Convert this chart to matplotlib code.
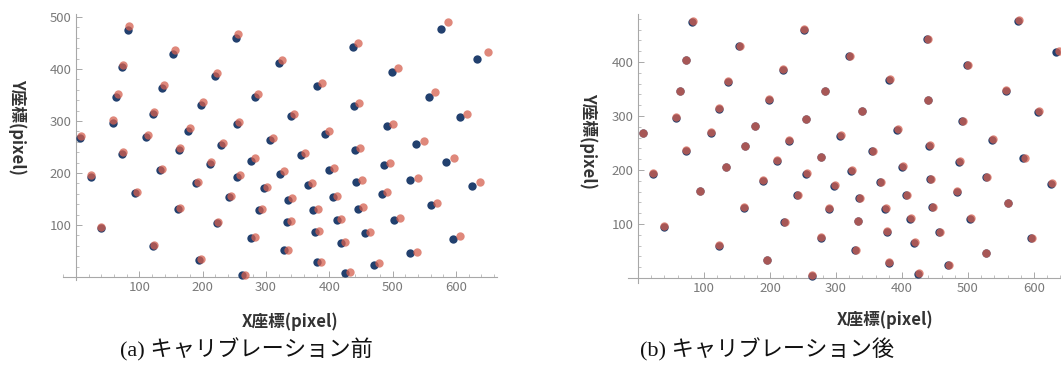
"""
キャリブレーション前後の点位置比較 (2パネル散布図)
"""

import matplotlib
matplotlib.use("Agg")
import matplotlib.pyplot as plt
from matplotlib.ticker import FixedLocator, MultipleLocator

plt.rcParams["font.family"] = ["Noto Sans CJK JP", "DejaVu Sans"]

# 目標位置 (青)
target_x = [82, 252, 153, 72, 320, 220, 136, 64, 283, 198, 122, 58, 254, 339, 177, 7, 111, 306, 229, 162,
            73, 133, 211, 277, 23, 189, 255, 323, 94, 241, 297, 161, 289, 335, 39, 222, 277, 333, 122, 329, 195, 263,
            355, 441, 537, 400, 487, 584, 367, 443, 528, 626, 406, 483, 375, 446, 560, 412, 503, 377, 456, 596,
            418, 527, 380, 470, 425,
            576, 438, 634, 499, 381, 557, 439, 606, 491, 393]
target_y = [475, 460, 429, 403, 411, 386, 363, 346, 346, 330, 313, 297, 294, 309, 281, 268, 269, 263, 254, 244,
            236, 205, 217, 224, 193, 180, 193, 199, 161, 153, 171, 130, 128, 148, 95, 103, 75, 105, 60, 51, 33, 4,
            235, 245, 256, 206, 215, 222, 177, 183, 187, 175, 153, 160, 128, 131, 138, 110, 110, 86, 85, 74,
            65, 46, 28, 24, 8,
            476, 442, 419, 394, 367, 347, 329, 308, 290, 275]

# キャリブレーション前 (赤)
before_x = [84, 256, 156, 74, 325, 223, 139, 66, 288, 201, 124, 59, 258, 345, 180, 8, 113, 311, 233, 165,
            75, 136, 214, 282, 23, 192, 259, 329, 96, 245, 302, 164, 294, 341, 40, 225, 282, 339, 124, 335, 198, 267,
            361, 449, 549, 407, 496, 597, 373, 451, 540, 638, 413, 492, 382, 454, 571, 419, 512, 384, 464, 606,
            425, 538, 387, 479, 433,
            587, 446, 651, 508, 388, 567, 447, 618, 500, 400]
before_y = [482, 467, 436, 408, 418, 393, 369, 351, 352, 336, 318, 301, 299, 314, 286, 272, 273, 267, 258, 248,
            240, 208, 221, 228, 196, 183, 197, 203, 164, 156, 174, 133, 131, 151, 97, 105, 77, 107, 61, 52, 34, 4,
            239, 249, 261, 210, 219, 228, 181, 187, 190, 182, 156, 163, 131, 134, 142, 112, 113, 88, 87, 78,
            67, 48, 29, 26, 9,
            491, 450, 433, 401, 373, 355, 335, 313, 295, 280]

# キャリブレーション後 (赤)
after_x = [83, 252, 154, 72, 321, 220, 137, 64, 284, 198, 122, 58, 255, 340, 177, 7, 111, 307, 229, 162,
           73, 134, 211, 278, 23, 189, 256, 324, 94, 242, 298, 161, 290, 336, 39, 223, 278, 334, 122, 330, 195, 264,
           356, 442, 538, 401, 488, 586, 368, 444, 529, 628, 407, 484, 376, 447, 561, 413, 504, 378, 457, 597,
           419, 528, 381, 471, 426,
           577, 439, 638, 500, 382, 558, 440, 608, 492, 394]
after_y = [476, 461, 430, 404, 412, 387, 364, 347, 347, 331, 314, 298, 295, 310, 282, 269, 270, 264, 255, 245,
           237, 206, 218, 225, 194, 181, 194, 200, 162, 154, 172, 131, 129, 149, 96, 104, 76, 106, 61, 52, 34, 5,
           236, 246, 257, 207, 216, 223, 178, 184, 188, 176, 154, 161, 129, 132, 139, 111, 111, 87, 86, 75,
           66, 47, 29, 25, 9,
           478, 443, 420, 395, 368, 348, 330, 309, 291, 276]

x_ticks = [100, 200, 300, 400, 500, 600]
y_ticks_a = [100, 200, 300, 400, 500]
y_ticks_b = [100, 200, 300, 400]

BLUE = "#22406e"
RED = "#d5604f"
AXIS_COLOR = "#a8a8a8"
TICK_LABEL_COLOR = "#7a7a7a"
LABEL_COLOR = "#333333"

W, H = 1061, 369


def px_rect(left, top, right, bottom):
    """ピクセル座標 -> figure 座標の矩形"""
    return [left / W, 1 - bottom / H, (right - left) / W, (bottom - top) / H]


def style_axes(ax, xlim, ylim, yticks):
    ax.set_xlim(*xlim)
    ax.set_ylim(*ylim)
    for side in ("top", "right"):
        ax.spines[side].set_visible(False)
    for side in ("left", "bottom"):
        ax.spines[side].set_position(("data", 0))
        ax.spines[side].set_color(AXIS_COLOR)
        ax.spines[side].set_linewidth(0.8)
    ax.xaxis.set_major_locator(FixedLocator(x_ticks))
    ax.yaxis.set_major_locator(FixedLocator(yticks))
    ax.xaxis.set_minor_locator(MultipleLocator(20))
    ax.yaxis.set_minor_locator(MultipleLocator(20))
    ax.tick_params(which="major", direction="in", length=4, width=0.7,
                   color=AXIS_COLOR, labelcolor=TICK_LABEL_COLOR,
                   labelsize=9.5, pad=3)
    ax.tick_params(which="minor", direction="in", length=2, width=0.5,
                   color=AXIS_COLOR)
    ax.patch.set_alpha(0)


fig = plt.figure(figsize=(W / 100, H / 100), dpi=100)

# (a) キャリブレーション前
ax_a = fig.add_axes(px_rect(63.3, 14.4, 497, 279.6))
style_axes(ax_a, (-20, 665), (-5, 505), y_ticks_a)
ax_a.scatter(target_x, target_y, s=36, color=BLUE, linewidths=0, zorder=3)
ax_a.scatter(before_x, before_y, s=36, color=RED, alpha=0.75, linewidths=0, zorder=4)

# (b) キャリブレーション後
ax_b = fig.add_axes(px_rect(628.1, 14, 1061, 283.4))
style_axes(ax_b, (-15, 641), (-10, 489), y_ticks_b)
ax_b.scatter(target_x, target_y, s=36, color=BLUE, linewidths=0, zorder=3)
ax_b.scatter(after_x, after_y, s=36, color=RED, alpha=0.75, linewidths=0, zorder=4)

# 軸ラベル
label_kw = dict(fontsize=12, color=LABEL_COLOR, fontweight="bold", ha="center", va="center")
fig.text(290 / W, 1 - 322 / H, "X座標(pixel)", **label_kw)
fig.text(885 / W, 1 - 320 / H, "X座標(pixel)", **label_kw)
fig.text(17 / W, 1 - 127 / H, "Y座標(pixel)", rotation=-90, **label_kw)
fig.text(588 / W, 1 - 141 / H, "Y座標(pixel)", rotation=-90, **label_kw)

# キャプション
cap_kw = dict(fontsize=16, color="#111111", ha="center", va="center",
              family=["Liberation Serif", "Noto Sans CJK JP"])
fig.text(246 / W, 1 - 350 / H, "(a) キャリブレーション前", **cap_kw)
fig.text(767 / W, 1 - 350 / H, "(b) キャリブレーション後", **cap_kw)

fig.savefig("out.png", dpi=100)
